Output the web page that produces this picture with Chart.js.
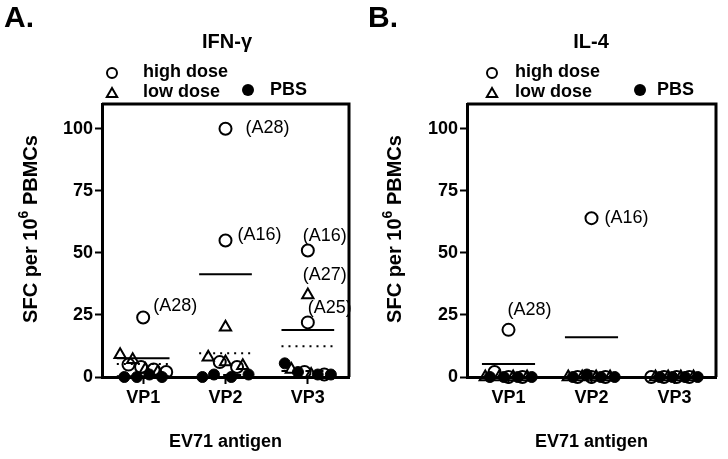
<!DOCTYPE html>
<html>
<head>
<meta charset="utf-8">
<script src="https://cdn.jsdelivr.net/npm/chart.js@4.4.1/dist/chart.umd.min.js"></script>
<style>
  body { margin: 0; background: #fff; }
  #wrap { position: relative; width: 728px; height: 459px; }
  .panel { position: absolute; top: 0; width: 364px; height: 459px; }
</style>
</head>
<body>
<div id="wrap">
  <div class="panel" style="left:0"><canvas id="chartA" width="364" height="459"></canvas></div>
  <div class="panel" style="left:364px"><canvas id="chartB" width="364" height="459"></canvas></div>
</div>
<script>
const categories = ['VP1', 'VP2', 'VP3'];
const yTicks = [0, 25, 50, 75, 100];

// A. IFN-γ — one inner list per antigen
const ifnHigh = [[24, 5, 4, 3, 2], [100, 55, 6, 4], [51, 22, 2, 1]];
const ifnLow = [[9, 7, 3, 2], [20, 8, 6, 4.5], [33, 3, 1]];
const ifnPbs = [[0, 0, 1, 0], [0, 1, 0, 1], [5.5, 2, 1, 1]];
const ifnHighMean = [7.6, 41.4, 18.9];
const ifnLowMean = [5.2, 9.6, 12.4];
const ifnPbsMean = [0.3, 0.8, 2.4];
const ifnHighNotes = [['(A28)'], ['(A28)', '(A16)'], ['(A16)', '(A25)']];
const ifnLowNotes = [[], [], ['(A27)']];

// B. IL-4
const il4High = [[19, 2, 0, 0], [64, 0, 0, 0], [0, 0, 0, 0]];
const il4Low = [[0, 0, 0, 0], [0, 0, 0, 0], [0, 0, 0, 0]];
const il4Pbs = [[0, 0, 0, 0], [0, 1, 0, 0], [0, 0, 0, 0]];
const il4HighMean = [5.2, 16, 0];
const il4LowMean = [0, 0, 0];
const il4PbsMean = [0, 0, 0];
const il4HighNotes = [['(A28)'], ['(A16)'], []];
const il4LowNotes = [[], [], []];

const FONT = '"Liberation Sans", Arial, sans-serif';

document.addEventListener("DOMContentLoaded", function () {
    makePanel({
        canvas: 'chartA', letter: 'A.', title: 'IFN-\u03b3', left: 102, right: 349,
        groups: [ifnHigh, ifnLow, ifnPbs],
        means: [ifnHighMean, ifnLowMean, ifnPbsMean],
        notes: [ifnHighNotes, ifnLowNotes, []],
        // pixel nudges of the "(Axx)" labels from their point
        shifts: [[[[10, -11]], [[20, -1], [12, -5]], [[-5, -14], [0, -14]]], [[], [], [[-5, -20]]], []],
        legend: { sym: 112, text: 143, dot: 248, pbs: 270 }
    });
    makePanel({
        canvas: 'chartB', letter: 'B.', title: 'IL-4', left: 103, right: 352,
        groups: [il4High, il4Low, il4Pbs],
        means: [il4HighMean, il4LowMean, il4PbsMean],
        notes: [il4HighNotes, il4LowNotes, []],
        shifts: [[[[-1, -20]], [[13, 0]], []], [], []],
        legend: { sym: 128, text: 151, dot: 276, pbs: 293 }
    });
});

// small values get spread across the column, big ones stay centred
function spreadX(lists) {
    const small = [];
    lists.forEach((vals, g) => vals.forEach((v, k) => { if (v < 10) small.push([g, k]); }));
    small.sort((a, b) => a[1] - b[1] || a[0] - b[0]);
    const out = lists.map(vals => vals.map(() => 0));
    small.forEach(([g, k], i) => {
        out[g][k] = small.length > 1 ? -0.28 + 0.56 * i / (small.length - 1) : 0;
    });
    return out;
}

function pointSet(p, g) {
    const data = [], notes = [], shifts = [];
    categories.forEach((cat, c) => {
        const xs = spreadX(p.groups.map(gr => gr[c]));
        p.groups[g][c].forEach((v, k) => {
            data.push({ x: c + xs[g][k], y: v });
            notes.push(((p.notes[g] || [])[c] || [])[k] || null);
            shifts.push(((p.shifts[g] || [])[c] || [])[k] || [0, 0]);
        });
    });
    return { data, notes, shifts };
}

function meanLine(means) {
    const data = [];
    means.forEach((m, c) => {
        data.push({ x: c - 0.32, y: m }, { x: c + 0.32, y: m }, { x: c + 0.5, y: null });
    });
    return data;
}

function drawTriangle(ctx, x, y, r) {
    ctx.beginPath();
    ctx.moveTo(x, y - r);
    ctx.lineTo(x + r * 0.866, y + r / 2);
    ctx.lineTo(x - r * 0.866, y + r / 2);
    ctx.closePath();
    ctx.stroke();
}

// y title with a real superscript 6
function drawYTitle(ctx, cx, cy) {
    const main = 'bold 20px ' + FONT, sup = 'bold 14px ' + FONT;
    const parts = [['SFC per 10', main, 0], ['6', sup, -7], [' PBMCs', main, 0]];
    let total = 0;
    parts.forEach(pt => { ctx.font = pt[1]; total += ctx.measureText(pt[0]).width; });
    ctx.save();
    ctx.translate(cx, cy);
    ctx.rotate(-Math.PI / 2);
    ctx.textAlign = 'left';
    ctx.textBaseline = 'middle';
    let x = -total / 2;
    parts.forEach(pt => {
        ctx.font = pt[1];
        ctx.fillText(pt[0], x, pt[2]);
        x += ctx.measureText(pt[0]).width;
    });
    ctx.restore();
}

function makePanel(p) {
    const high = pointSet(p, 0), low = pointSet(p, 1), pbs = pointSet(p, 2);

    const frame = {
        id: 'frame',
        beforeDatasetsDraw(chart) {
            const a = chart.chartArea, ctx = chart.ctx;
            ctx.save();
            ctx.strokeStyle = '#000';
            ctx.lineWidth = 3;
            ctx.beginPath();
            ctx.moveTo(a.left, a.top);
            ctx.lineTo(a.right, a.top);
            ctx.lineTo(a.right, a.bottom);
            ctx.stroke();
            ctx.restore();
        }
    };

    const decor = {
        id: 'decor',
        afterDraw(chart) {
            const ctx = chart.ctx;
            ctx.save();
            ctx.fillStyle = '#000';
            ctx.strokeStyle = '#000';
            ctx.textBaseline = 'middle';

            ctx.font = 'bold 30px ' + FONT;
            ctx.textAlign = 'left';
            ctx.fillText(p.letter, 4, 19);

            ctx.font = 'bold 20px ' + FONT;
            ctx.textAlign = 'center';
            ctx.fillText(p.title, 227, 42);

            drawYTitle(ctx, 31, 229);

            // legend
            const L = p.legend;
            ctx.lineWidth = 2;
            ctx.beginPath();
            ctx.arc(L.sym, 73, 5, 0, Math.PI * 2);
            ctx.stroke();
            drawTriangle(ctx, L.sym, 94, 6);
            ctx.beginPath();
            ctx.arc(L.dot, 90, 6, 0, Math.PI * 2);
            ctx.fill();
            ctx.font = 'bold 18px ' + FONT;
            ctx.textAlign = 'left';
            ctx.fillText('high dose', L.text, 72);
            ctx.fillText('low dose', L.text, 92);
            ctx.fillText('PBS', L.pbs, 90);

            // point labels
            ctx.font = '18px ' + FONT;
            chart.data.datasets.forEach((ds, i) => {
                if (!ds.notes) return;
                const meta = chart.getDatasetMeta(i);
                ds.notes.forEach((n, j) => {
                    if (!n) return;
                    const el = meta.data[j];
                    ctx.fillText(n, el.x + ds.shifts[j][0], el.y + ds.shifts[j][1]);
                });
            });
            ctx.restore();
        }
    };

    const ctx = document.getElementById(p.canvas).getContext('2d');
    new Chart(ctx, {
        type: 'scatter',
        data: {
            datasets: [
                { label: 'high dose', data: high.data, notes: high.notes, shifts: high.shifts, pointStyle: 'circle',
                  pointRadius: 6, pointBorderWidth: 2, borderColor: '#000', backgroundColor: 'rgba(0,0,0,0)', clip: false, order: 2 },
                { label: 'low dose', data: low.data, notes: low.notes, shifts: low.shifts, pointStyle: 'triangle',
                  pointRadius: 6.5, pointBorderWidth: 2, borderColor: '#000', backgroundColor: 'rgba(0,0,0,0)', clip: false, order: 2 },
                { label: 'PBS', data: pbs.data, pointStyle: 'circle',
                  pointRadius: 5.5, pointBorderWidth: 1, borderColor: '#000', backgroundColor: '#000', clip: false, order: 1 },
                { data: meanLine(p.means[0]), showLine: true, pointRadius: 0, borderColor: '#000', borderWidth: 2, clip: false, order: 3 },
                { data: meanLine(p.means[1]), showLine: true, pointRadius: 0, borderColor: '#000', borderWidth: 2, borderDash: [2, 5], clip: false, order: 3 },
                { data: meanLine(p.means[2]), showLine: true, pointRadius: 0, borderColor: '#000', borderWidth: 2, borderDash: [6, 6], clip: false, order: 3 }
            ]
        },
        options: {
            responsive: false,
            animation: false,
            layout: { padding: { top: 104, right: 364 - p.right, left: 0, bottom: 0 } },
            plugins: { legend: { display: false }, tooltip: { enabled: false } },
            scales: {
                x: {
                    type: 'linear', min: -0.5, max: 2.5,
                    afterBuildTicks: s => { s.ticks = categories.map((c, i) => ({ value: i })); },
                    afterFit: s => { s.height = 459 - 377; },
                    grid: { display: true, drawOnChartArea: false, drawTicks: true, tickLength: 7, tickWidth: 2, tickColor: '#000' },
                    border: { display: true, color: '#000', width: 3 },
                    ticks: { color: '#000', font: { family: FONT, size: 18, weight: 'bold' }, padding: 3,
                             autoSkip: false, maxRotation: 0, callback: v => categories[v] },
                    title: { display: true, text: 'EV71 antigen', color: '#000',
                             font: { family: FONT, size: 18, weight: 'bold' }, padding: { top: 4, bottom: 6 } }
                },
                y: {
                    type: 'linear', min: 0, max: 110,
                    afterBuildTicks: s => { s.ticks = yTicks.map(v => ({ value: v })); },
                    afterFit: s => { s.width = p.left; },
                    grid: { display: true, drawOnChartArea: false, drawTicks: true, tickLength: 7, tickWidth: 2, tickColor: '#000' },
                    border: { display: true, color: '#000', width: 3 },
                    ticks: { color: '#000', font: { family: FONT, size: 18, weight: 'bold' }, padding: 2 }
                }
            }
        },
        plugins: [frame, decor]
    });
}
</script>
</body>
</html>
